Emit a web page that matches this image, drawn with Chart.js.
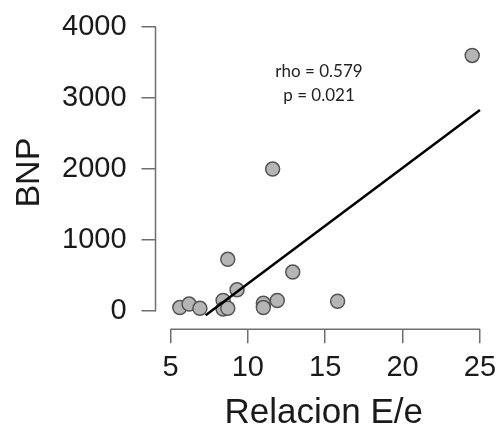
<!DOCTYPE html>
<html>
<head>
<meta charset="utf-8">
<script src="https://cdn.jsdelivr.net/npm/chart.js@4"></script>
<style>
  html, body { margin: 0; padding: 0; background: #fff; }
  #chart1 { display: block; }
</style>
</head>
<body>
<canvas id="chart1" width="501" height="431"></canvas>
<script>
// data
const relacion = [5.6, 6.2, 6.9, 8.4, 8.4, 8.7, 8.7, 9.3, 11.0, 11.0, 11.9, 11.6, 12.9, 15.8, 24.5];
const bnp = [50, 100, 40, 150, 30, 40, 730, 300, 110, 50, 150, 2000, 550, 140, 3600];
// regression line end points
const fitX = [7.27, 25];
const fitY = [-56, 2830];
const xTicks = [5, 10, 15, 20, 25];
const yTicks = [0, 1000, 2000, 3000, 4000];
const statsText = ['rho = 0.579', 'p = 0.021'];
const statsX = 14.6;
const statsY = [3380, 3040];

const axisFont = "'Liberation Sans', Arial, sans-serif";

// R style axis line that only spans first..last tick
const axisLines = {
    id: 'axisLines',
    afterDraw(chart) {
        const {ctx, chartArea, scales} = chart;
        const x = scales.x, y = scales.y;
        ctx.save();
        ctx.strokeStyle = '#6e6e6e';
        ctx.lineWidth = 1.5;
        ctx.beginPath();
        ctx.moveTo(chartArea.left, y.getPixelForValue(yTicks[0]));
        ctx.lineTo(chartArea.left, y.getPixelForValue(yTicks[yTicks.length - 1]));
        ctx.moveTo(x.getPixelForValue(xTicks[0]), chartArea.bottom);
        ctx.lineTo(x.getPixelForValue(xTicks[xTicks.length - 1]), chartArea.bottom);
        ctx.stroke();
        ctx.restore();
    }
};

const statsLabel = {
    id: 'statsLabel',
    afterDatasetsDraw(chart) {
        const {ctx, scales} = chart;
        ctx.save();
        ctx.fillStyle = '#222';
        ctx.font = "17px Lato, 'Open Sans', sans-serif";
        ctx.textAlign = 'center';
        ctx.textBaseline = 'middle';
        statsText.forEach((t, i) => {
            ctx.fillText(t, scales.x.getPixelForValue(statsX), scales.y.getPixelForValue(statsY[i]));
        });
        ctx.restore();
    }
};

const ctx = document.getElementById('chart1');
const chart1 = new Chart(ctx, {
    type: 'scatter',
    data: {
        datasets: [{
            data: relacion.map((v, i) => ({x: v, y: bnp[i]})),
            backgroundColor: '#b5b5b5',
            borderColor: '#555',
            borderWidth: 1.5,
            pointRadius: 7,
            order: 2
        }, {
            type: 'line',
            data: fitX.map((v, i) => ({x: v, y: fitY[i]})),
            borderColor: '#000',
            borderWidth: 2.5,
            pointRadius: 0,
            fill: false,
            order: 1
        }]
    },
    options: {
        responsive: false,
        animation: false,
        layout: {
            padding: {left: 0, right: 9, top: 16, bottom: 0}
        },
        scales: {
            x: {
                type: 'linear',
                min: 4.03,
                max: 25.78,
                afterBuildTicks: scale => { scale.ticks = xTicks.map(v => ({value: v})); },
                afterFit: scale => { scale.paddingLeft = 0; scale.paddingRight = 0; },
                border: { display: false },
                grid: {
                    drawOnChartArea: false,
                    drawTicks: true,
                    tickLength: 14,
                    color: '#6e6e6e',
                    lineWidth: 1.5
                },
                ticks: {
                    padding: 7,
                    color: '#1a1a1a',
                    font: { family: axisFont, size: 29 },
                    callback: v => String(v)
                },
                title: {
                    display: true,
                    text: 'Relacion E/e',
                    color: '#1a1a1a',
                    font: { family: axisFont, size: 35, lineHeight: 1 },
                    padding: { top: 4, bottom: 0 }
                }
            },
            y: {
                type: 'linear',
                min: -254,
                max: 4155,
                afterBuildTicks: scale => { scale.ticks = yTicks.map(v => ({value: v})); },
                // labels may hang over the plot edge, don't shrink the plot for them
                afterFit: scale => { scale.paddingTop = 0; scale.paddingBottom = 0; },
                border: { display: false },
                grid: {
                    drawOnChartArea: false,
                    drawTicks: true,
                    tickLength: 14,
                    color: '#6e6e6e',
                    lineWidth: 1.5
                },
                ticks: {
                    padding: 15,
                    color: '#1a1a1a',
                    font: { family: axisFont, size: 29 },
                    callback: v => String(v)
                },
                title: {
                    display: true,
                    text: 'BNP',
                    color: '#1a1a1a',
                    font: { family: axisFont, size: 34, lineHeight: 1 },
                    padding: { top: 13, bottom: 0 }
                }
            }
        },
        plugins: {
            legend: { display: false },
            tooltip: { enabled: false }
        }
    },
    plugins: [axisLines, statsLabel]
});
</script>
</body>
</html>
